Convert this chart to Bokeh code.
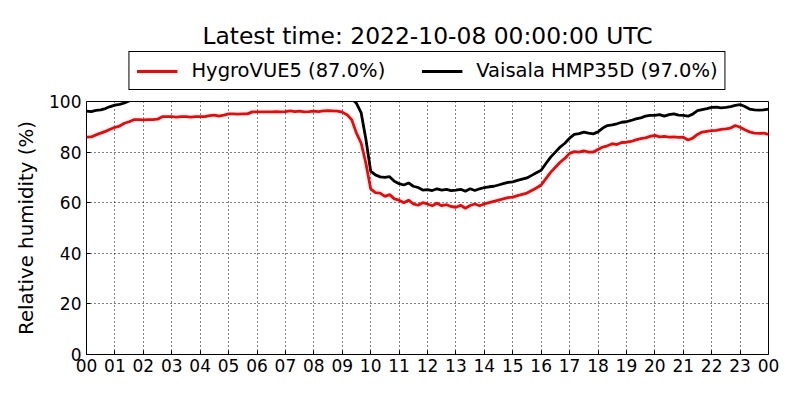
from bokeh.plotting import figure
from bokeh.layouts import column
from bokeh.models import (ColumnDataSource, FixedTicker, Legend, LegendItem,
                          Range1d, Label)
from bokeh.embed import file_html
from bokeh.resources import INLINE

title_text = "Latest time: 2022-10-08 00:00:00 UTC"
y_label = "Relative humidity (%)"
hour_ticks = list(range(25))
hour_labels = ["00", "01", "02", "03", "04", "05", "06", "07", "08", "09",
               "10", "11", "12", "13", "14", "15", "16", "17", "18", "19",
               "20", "21", "22", "23", "00"]
y_ticks = [0, 20, 40, 60, 80, 100]

# samples every 10 minutes, 00:00 .. 24:00
sample_minutes = list(range(0, 1441, 10))

hygrovue5 = [
    85.9, 86.0, 86.8, 87.5, 88.2, 89.0,   # 00
    89.8, 90.3, 91.4, 92.0, 92.8, 92.8,   # 01
    92.7, 92.8, 92.8, 93.0, 94.0, 94.0,   # 02
    94.0, 93.8, 94.0, 94.0, 93.8, 94.0,   # 03
    94.0, 94.0, 94.4, 94.6, 94.2, 94.6,   # 04
    95.1, 95.1, 95.0, 95.1, 95.1, 95.9,   # 05
    95.9, 95.9, 95.9, 95.9, 96.0, 95.9,   # 06
    96.0, 96.3, 96.0, 96.2, 95.9, 96.0,   # 07
    96.2, 96.0, 96.3, 96.4, 96.3, 96.2,   # 08
    95.8, 94.8, 92.8, 87.5, 83.5, 75.5,   # 09
    65.5, 64.0, 63.8, 62.5, 63.2, 61.5,   # 10
    61.0, 60.0, 61.0, 59.5, 59.0, 60.0,   # 11
    59.5, 58.8, 59.8, 58.8, 59.2, 58.5,   # 12
    58.2, 59.0, 57.8, 58.9, 59.5, 58.8,   # 13
    59.5, 60.0, 60.5, 61.0, 61.5, 62.0,   # 14
    62.2, 62.8, 63.3, 63.8, 64.8, 65.8,   # 15
    67.0, 69.5, 72.0, 74.0, 76.0, 77.5,   # 16
    79.5, 80.2, 80.0, 80.5, 80.0, 80.0,   # 17
    81.0, 82.0, 82.5, 83.3, 83.0, 83.8,   # 18
    83.9, 84.2, 84.8, 85.3, 85.6, 86.2,   # 19
    86.6, 86.0, 86.2, 85.9, 86.0, 85.8,   # 20
    85.9, 84.8, 85.5, 87.0, 87.9, 88.2,   # 21
    88.5, 88.6, 89.0, 89.2, 89.5, 90.5,   # 22
    89.8, 88.8, 88.0, 87.5, 87.4, 87.5,   # 23
    87.0,
]

hmp35d = [
    96.2, 96.0, 96.5, 96.7, 97.2, 98.0,        # 00
    98.6, 98.9, 99.4, 100.2, 101.0, 101.0,     # 01
    101.0, 101.0, 101.0, 101.0, 101.0, 101.0,  # 02
    101.0, 101.0, 101.0, 101.0, 101.0, 101.0,  # 03
    101.0, 101.0, 101.0, 101.0, 101.0, 101.0,  # 04
    101.0, 101.0, 101.0, 101.0, 101.0, 101.0,  # 05
    101.0, 101.0, 101.0, 101.0, 101.0, 101.0,  # 06
    101.0, 101.0, 101.0, 101.0, 101.0, 101.0,  # 07
    101.0, 101.0, 101.0, 101.0, 101.0, 101.0,  # 08
    101.0, 101.0, 101.0, 99.3, 95.5, 85.0,     # 09
    72.5, 71.0, 70.2, 70.0, 70.3, 68.5,        # 10
    67.5, 67.0, 67.8, 66.5, 66.0, 65.0,        # 11
    65.2, 64.8, 65.5, 65.0, 65.3, 64.8,        # 12
    65.0, 65.3, 64.5, 65.5, 64.8, 65.5,        # 13
    66.0, 66.3, 66.5, 67.0, 67.5, 68.0,        # 14
    68.2, 68.8, 69.3, 69.8, 70.8, 71.8,        # 15
    72.8, 75.5, 78.0, 80.0, 82.0, 83.5,        # 16
    85.5, 87.0, 87.3, 87.9, 87.5, 87.2,        # 17
    88.0, 89.5, 90.5, 90.8, 91.2, 91.8,        # 18
    92.0, 92.5, 93.1, 93.5, 94.2, 94.5,        # 19
    94.5, 94.8, 94.2, 94.8, 95.1, 94.6,        # 20
    94.5, 94.2, 95.0, 96.4, 96.8, 97.2,        # 21
    97.7, 97.8, 97.5, 97.7, 98.0, 98.5,        # 22
    98.8, 98.0, 97.0, 96.7, 96.6, 96.7,        # 23
    97.0,
]

hours = [m / 60 for m in sample_minutes]
src = ColumnDataSource(dict(h=hours, rh1=hygrovue5, rh2=hmp35d))

FONT = "DejaVu Sans"
LW = 2.8

# ---------- header: title + legend (its y range lies above the data, so the
# series lines there are out of view and only feed the legend) ----------
head = figure(width=800, height=90, output_backend="svg", toolbar_location=None,
              x_range=Range1d(0, 24), y_range=Range1d(1000, 1100),
              x_axis_location=None, y_axis_location=None, title_location=None,
              min_border_left=86, min_border_right=32,
              min_border_top=0, min_border_bottom=0,
              outline_line_color=None,
              background_fill_color="white", border_fill_color="white")
head.xgrid.visible = False
head.ygrid.visible = False

head.add_layout(Label(x=341, y=55, x_units="screen", y_units="screen",
                      text=title_text, text_align="center",
                      text_baseline="alphabetic", text_font=FONT,
                      text_font_size="23.4px", text_color="black"))

k1 = head.line("h", "rh1", source=src, line_color="red", line_width=LW)
k2 = head.line("h", "rh2", source=src, line_color="black", line_width=LW)

legend = Legend(items=[
    LegendItem(label=f"HygroVUE5 ({hygrovue5[-1]:.1f}%)", renderers=[k1]),
    LegendItem(label=f"Vaisala HMP35D ({hmp35d[-1]:.1f}%)", renderers=[k2]),
], orientation="horizontal", location="bottom_center")
legend.label_text_font = FONT
legend.label_text_font_size = "19.5px"
legend.label_text_color = "black"
legend.border_line_color = "black"
legend.border_line_width = 1
legend.border_line_alpha = 1
legend.background_fill_color = "white"
legend.background_fill_alpha = 1
legend.glyph_width = 41
legend.glyph_height = 20
legend.label_standoff = 14
legend.spacing = 36
legend.padding = 7
legend.margin = 0
legend.click_policy = "none"
head.add_layout(legend, "center")

# ---------- main plot ----------
p = figure(width=800, height=310, output_backend="svg", toolbar_location=None,
           x_range=Range1d(0, 24), y_range=Range1d(0, 100),
           title_location=None,
           min_border_left=86, min_border_right=32,
           min_border_top=11, min_border_bottom=46,
           background_fill_color="white", border_fill_color="white")

p.outline_line_color = "black"
p.outline_line_width = 1
p.outline_line_alpha = 1

p.line("h", "rh1", source=src, line_color="red", line_width=LW)
p.line("h", "rh2", source=src, line_color="black", line_width=LW)

for ax in (p.xaxis[0], p.yaxis[0]):
    ax.major_label_text_font = FONT
    ax.major_label_text_font_size = "17px"
    ax.major_label_text_color = "black"
    ax.major_tick_in = 4
    ax.major_tick_out = 0
    ax.minor_tick_in = 0
    ax.minor_tick_out = 0
    ax.axis_line_color = None
    ax.major_tick_line_color = "black"

p.xaxis.ticker = FixedTicker(ticks=hour_ticks)
p.xaxis.major_label_overrides = {t: lab for t, lab in zip(hour_ticks, hour_labels)}
p.xaxis.major_label_standoff = 4
p.yaxis.ticker = FixedTicker(ticks=y_ticks)
p.yaxis.major_label_standoff = 5
p.yaxis.axis_label = y_label
p.yaxis.axis_label_text_font = FONT
p.yaxis.axis_label_text_font_size = "19.8px"
p.yaxis.axis_label_text_font_style = "normal"
p.yaxis.axis_label_text_color = "black"
p.yaxis.axis_label_standoff = 8

p.xgrid.ticker = FixedTicker(ticks=hour_ticks)
p.ygrid.ticker = FixedTicker(ticks=y_ticks)
for g in (p.xgrid[0], p.ygrid[0]):
    g.grid_line_color = "black"
    g.grid_line_dash = "1 3"
    g.grid_line_width = 1
    g.grid_line_alpha = 1

layout = column(head, p, spacing=0)
open("out.html", "w").write(file_html(layout, INLINE))
